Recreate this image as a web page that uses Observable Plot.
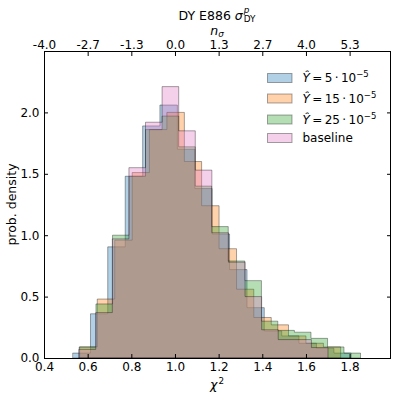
<!DOCTYPE html>
<html><head><meta charset="utf-8">
<script src="https://cdn.jsdelivr.net/npm/d3@7"></script>
<script src="https://cdn.jsdelivr.net/npm/@observablehq/plot@0.6"></script>
<style>
body{margin:0;background:#fff;}
#chart{width:399px;height:399px;}
svg{font-family:"DejaVu Sans",sans-serif;}
</style></head><body><div id="chart"></div>
<script>
// ---- data ----
const blueEdges   = [0.533,0.613,0.692,0.772,0.852,0.931,1.011,1.091,1.170,1.250,1.330,1.409,1.489,1.568,1.648,1.728,1.807];
const blueValues  = [0.04,0.36,0.905,1.48,1.89,2.06,1.70,1.38,1.01,0.72,0.41,0.22,0.18,0.12,0.08,0.04];
const orangeEdges = [0.565,0.644,0.724,0.804,0.883,0.963,1.043,1.122,1.202,1.282,1.361,1.441,1.520,1.600,1.680,1.759];
const orangeValues= [0.09,0.48,0.96,1.51,1.86,2.00,1.60,1.24,0.89,0.56,0.33,0.27,0.18,0.12,0.09];
const greenEdges  = [0.563,0.638,0.714,0.790,0.865,0.941,1.017,1.093,1.168,1.244,1.320,1.396,1.471,1.547,1.623,1.699,1.774,1.850];
const greenValues = [0.09,0.44,1.00,1.48,1.86,1.97,1.72,1.40,1.07,0.79,0.63,0.30,0.225,0.21,0.16,0.09,0.04];
const pinkEdges   = [0.561,0.637,0.713,0.789,0.865,0.941,1.017,1.093,1.169,1.245,1.321,1.397,1.473,1.549,1.625,1.701];
const pinkValues  = [0.07,0.37,0.97,1.55,1.92,2.21,1.85,1.53,1.02,0.78,0.50,0.23,0.15,0.15,0.085];

const seriesNames  = ["Y5","Y15","Y25","baseline"];
const seriesColors = ["#1f77b4","#ff7f0e","#2ca02c","#e377c2"];
const legendCoefs  = ["5","15","25",null];

const xTicks = [0.4,0.6,0.8,1.0,1.2,1.4,1.6,1.8];
const xTickLabels = ["0.4","0.6","0.8","1.0","1.2","1.4","1.6","1.8"];
const nSigmaLabels = ["-4.0","-2.7","-1.3","0.0","1.3","2.7","4.0","5.3"];
const yTicks = [0.0,0.5,1.0,1.5,2.0];
const yTickLabels = ["0.0","0.5","1.0","1.5","2.0"];

const edgesList = [blueEdges, orangeEdges, greenEdges, pinkEdges];
const valuesList = [blueValues, orangeValues, greenValues, pinkValues];

function steps(edges, values) {
  return edges.map((e, i) => ({x: e, y: values[Math.min(i, values.length - 1)]}));
}

const alpha = 0.35;
const chart = Plot.plot({
  width: 399, height: 399,
  marginLeft: 44, marginRight: 9, marginTop: 51, marginBottom: 41,
  style: {fontFamily: "DejaVu Sans, sans-serif", fontSize: "12px", color: "#000", background: "#fff"},
  x: {domain: [0.4, 1.985]},
  y: {domain: [0, 2.5]},
  marks: [
    ...edgesList.map((edges, k) => Plot.areaY(steps(edges, valuesList[k]), {
      x: "x", y: "y", curve: "step-after",
      fill: seriesColors[k], fillOpacity: alpha,
      stroke: "#000", strokeOpacity: alpha, strokeWidth: 1
    })),
    Plot.frame({stroke: "#000", strokeWidth: 1}),
    Plot.axisX(xTicks, {anchor: "bottom", tickSize: -4, tickPadding: 8, tickFormat: (d, i) => xTickLabels[i], label: null, fontSize: 12}),
    Plot.axisX(xTicks, {anchor: "top", tickSize: -4, tickPadding: 7, tickFormat: (d, i) => nSigmaLabels[i], label: null, fontSize: 12}),
    Plot.axisY(yTicks, {anchor: "left", tickSize: -4, tickPadding: 9, tickFormat: (d, i) => yTickLabels[i], label: null, fontSize: 12}),
    Plot.axisY(yTicks, {anchor: "right", tickSize: -4, tickFormat: () => "", label: null})
  ]
});
document.getElementById("chart").appendChild(chart);

const svg = d3.select(chart);
const cx = (44 + 390) / 2;
function txt(x, y, size) {
  return svg.append("text").attr("x", x).attr("y", y).attr("font-size", size)
    .attr("fill", "#000").attr("text-anchor", "start");
}

// Title: DY E886 σ^p_DY
{
  const t = txt(0, 19.5, 12.5);
  t.append("tspan").text("DY E886 ");
  t.append("tspan").attr("font-style", "italic").text("σ");
  const w = t.node().getComputedTextLength();
  const sub = txt(0, 21.5, 8.8).text("DY");
  const sw = sub.node().getComputedTextLength();
  const x0 = cx - (w + 1 + sw) / 2;
  t.attr("x", x0);
  sub.attr("x", x0 + w + 1);
  txt(x0 + w + 1, 12.5, 8.8).attr("font-style", "italic").text("p");
}
// top axis label n_σ
{
  const t = txt(0, 34.5, 12.5).attr("font-style", "italic").text("n");
  const w = t.node().getComputedTextLength();
  const s = txt(0, 37, 8.8).attr("font-style", "italic").text("σ");
  const sw = s.node().getComputedTextLength();
  const x0 = cx - (w + sw) / 2;
  t.attr("x", x0); s.attr("x", x0 + w);
}
// bottom label χ²
{
  const t = txt(0, 388.5, 12.5).attr("font-style", "italic").text("χ");
  const w = t.node().getComputedTextLength();
  const s = txt(0, 384, 8.8).text("2");
  const sw = s.node().getComputedTextLength();
  const x0 = cx - (w + 1 + sw) / 2;
  t.attr("x", x0); s.attr("x", x0 + w + 1);
}
// y label
svg.append("text").attr("transform", `translate(16,${(51 + 358) / 2}) rotate(-90)`)
  .attr("text-anchor", "middle").attr("font-size", 12.5).attr("fill", "#000").text("prob. density");

// legend
{
  const rowY = [82, 102.5, 123.5, 142];
  seriesNames.forEach((name, k) => {
    const y = rowY[k];
    svg.append("rect").attr("x", 267.5).attr("y", y - 8.5).attr("width", 24.5).attr("height", 9)
      .attr("fill", seriesColors[k]).attr("fill-opacity", alpha)
      .attr("stroke", "#000").attr("stroke-opacity", alpha).attr("stroke-width", 1);
    const t = txt(302.5, y, 12);
    if (legendCoefs[k] === null) {
      t.text(name);
    } else {
      t.append("tspan").attr("font-style", "italic").text("Ŷ");
      t.append("tspan").text("\u2009=\u2009" + legendCoefs[k] + "\u2009·\u200910");
      t.append("tspan").attr("dy", -5).attr("font-size", 8.5).text("−5");
    }
  });
}
</script></body></html>
